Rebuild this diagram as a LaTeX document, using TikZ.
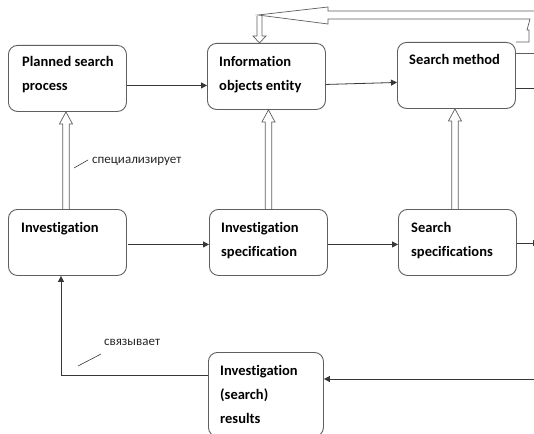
\documentclass[tikz,border=0pt]{standalone}
\usepackage{fontspec}
\setmainfont{Carlito}[Ligatures={NoCommon,NoContextual}]
\usetikzlibrary{arrows.meta,calc}
\definecolor{boxgray}{RGB}{95,95,95}
\definecolor{linegray}{RGB}{55,55,55}
\begin{document}
\begin{tikzpicture}[x=1pt,y=-1pt,
  box/.style={draw=boxgray, line width=0.9pt, rounded corners=9pt, anchor=north west, inner sep=0pt, minimum width=118pt, minimum height=66pt},
  txt/.style={anchor=base west, inner sep=0pt, align=left, font=\bfseries\fontsize{14.5}{24}\selectfont},
  lbl/.style={anchor=base west, inner sep=0pt, font=\fontsize{13}{15}\selectfont, text=black!85},
  arr/.style={draw=linegray, line width=0.8pt, -{Triangle[length=6pt,width=6pt]}},
  ln/.style={draw=linegray, line width=0.8pt},
  hol/.style={draw=boxgray, line width=0.7pt, line join=miter}]
\path[use as bounding box] (0,0) rectangle (534,433);
\fill[white] (0,0) rectangle (534,433);
\clip (0,0) rectangle (534,433);

% boxes
\node[box] (planned) at (8,45) {};
\node[box] (info) at (207,43) {};
\node[box] (sm) at (397,42) {};
\node[box] (inv) at (8,209) {};
\node[box] (invspec) at (209,209) {};
\node[box] (ss) at (398,209) {};
\node[box, minimum width=115pt, minimum height=84pt] (res) at (208,352) {};

% texts (base anchor = baseline of the last line)
\node[txt] (tplanned) at ([shift={(14pt,-46pt)}]planned.north west) {Planned search\\process};
\node[txt] (tinfo) at ([shift={(12pt,-47pt)}]info.north west) {Information\\objects entity};
\node[txt] (tsm) at ([shift={(12pt,-23pt)}]sm.north west) {Search method};
\node[txt] (tinv) at ([shift={(13pt,-23pt)}]inv.north west) {Investigation};
\node[txt] (tinvspec) at ([shift={(12pt,-47pt)}]invspec.north west) {Investigation\\specification};
\node[txt] (tss) at ([shift={(13pt,-47pt)}]ss.north west) {Search\\specifications};
\node[txt] (tres) at ([shift={(12pt,-71pt)}]res.north west) {Investigation\\(search)\\results};

% plain arrows
\draw[arr] ([yshift=-7pt]planned.east) -- ([yshift=-7pt]planned.east -| info.west);
\draw[arr] ([yshift=-8pt]info.east) -- ([yshift=-7pt]sm.west);
\draw[arr] ([shift={(1pt,-2pt)}]inv.east) -- ([yshift=-2pt]inv.east -| invspec.west);
\draw[arr] ([yshift=-2pt]invspec.east) -- ([yshift=-2pt]invspec.east -| ss.west);
\coordinate (ssout) at (539,243);
\draw[arr] (ss.east |- ssout) -- (ssout);
\coordinate (smout) at (545,88);
\draw[ln] (sm.east |- smout) -- (smout);
\coordinate (resin) at (545,379);
\draw[arr] (resin) -- (resin -| res.east);
\coordinate (bend) at (61,375);
\draw[arr] (res.west |- bend) -- (bend) -- (bend |- inv.south);

% hollow vertical arrows
\newcommand\hollowup[3]{%
  \draw[hol] let \p1=(#1.north), \p2=(#2.south) in
    (\x1+#3-3.2pt,\y1) -- (\x1+#3-3.2pt,\y2-12pt) -- (\x1+#3-6.5pt,\y2-12pt) -- (\x1+#3,\y2)
    -- (\x1+#3+6.5pt,\y2-12pt) -- (\x1+#3+3.2pt,\y2-12pt) -- (\x1+#3+3.2pt,\y1);}
\hollowup{inv}{planned}{-1.5pt}
\hollowup{invspec}{info}{0pt}
\hollowup{ss}{sm}{-2.5pt}

% wide hollow arrow at the top
\draw[hol] (545,11) -- (328,11) -- (328,7) -- (258,15) -- (328,24) -- (328,19) -- (530,19)
  -- (527,30) -- (529,30) -- (529,42) -- (sm.east |- 0,42);
\draw[hol] (sm.east |- 0,53) -- (545,53);
\draw[hol] (257,16) -- (257,36) -- (253,36) -- (info.north -| 259.5,0) -- (266,36) -- (262,36) -- (262,16);

% labels
\node[lbl] (l1) at (92,163) {специализирует};
\draw[ln, line width=0.6pt] (74,168) -- (88,160);
\node[lbl] (l2) at (104,345) {связывает};
\draw[ln, line width=0.6pt] (78,366) -- (101,354);
\end{tikzpicture}
\end{document}
